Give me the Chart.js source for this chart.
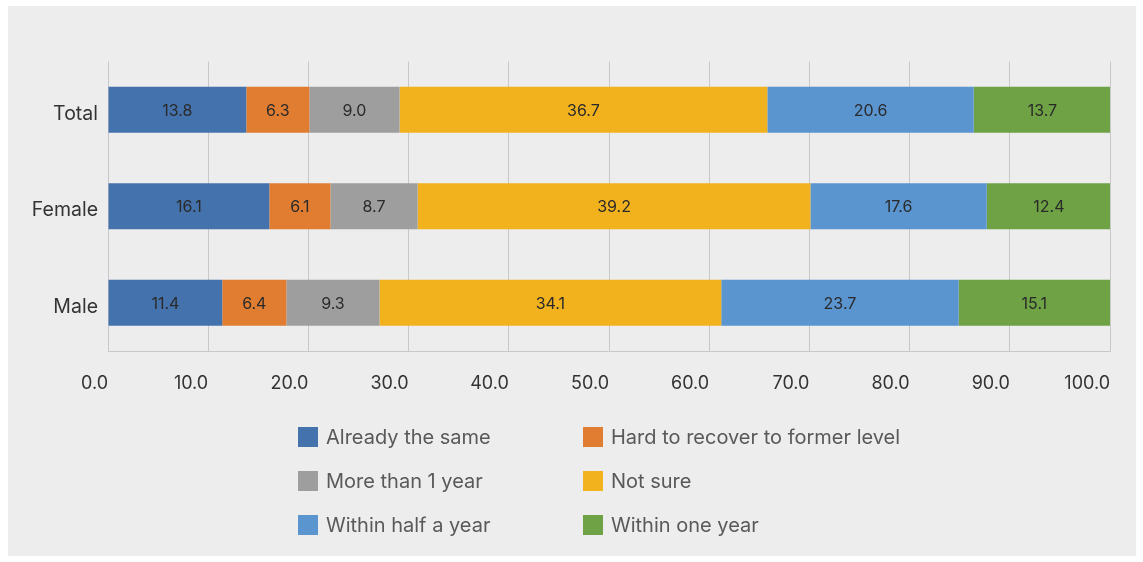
<!DOCTYPE html>
<html>
<head>
<meta charset="utf-8">
<script src="https://cdn.jsdelivr.net/npm/chart.js@4"></script>
<style>
  body { margin: 0; background: #fff; font-family: Inter, "Noto Sans", sans-serif; }
  #box { position: absolute; left: 8px; top: 6px; width: 1128px; height: 550px; background: #ededed; overflow: hidden; }
  #wrap { position: absolute; left: 0; top: 0; width: 1128px; height: 410px; }
  #legend { position: absolute; left: 290px; top: 409px; display: grid; grid-template-columns: 285px 360px; }
  .item { display: flex; align-items: center; height: 44px; font-size: 20px; color: #595959; white-space: nowrap; }
  .sw { width: 20px; height: 20px; margin-right: 8px; flex: none; }
</style>
</head>
<body>
<div id="box">
  <div id="wrap"><canvas id="chart"></canvas></div>
  <div id="legend"></div>
</div>
<script>
const groups = ['Total', 'Female', 'Male'];
const seriesNames = ['Already the same', 'Hard to recover to former level', 'More than 1 year', 'Not sure', 'Within half a year', 'Within one year'];
const alreadySame = [13.8, 16.1, 11.4];
const hardToRecover = [6.3, 6.1, 6.4];
const moreThanYear = [9.0, 8.7, 9.3];
const notSure = [36.7, 39.2, 34.1];
const withinHalfYear = [20.6, 17.6, 23.7];
const withinOneYear = [13.7, 12.4, 15.1];
const colors = ['#4472ad', '#e07d31', '#9e9e9e', '#f1b21e', '#5a95d0', '#6ea244'];

const allValues = [alreadySame, hardToRecover, moreThanYear, notSure, withinHalfYear, withinOneYear];

const barLabels = {
  id: 'barLabels',
  afterDatasetsDraw(chart) {
    const ctx = chart.ctx;
    ctx.save();
    ctx.font = '16px Inter, "Noto Sans", sans-serif';
    ctx.fillStyle = '#2a2a2a';
    ctx.textAlign = 'center';
    ctx.textBaseline = 'middle';
    chart.data.datasets.forEach((ds, i) => {
      chart.getDatasetMeta(i).data.forEach((bar, j) => {
        const x = (bar.x + bar.base) / 2;
        ctx.fillText(ds.data[j].toFixed(1), x, bar.y + 1);
      });
    });
    ctx.restore();
  }
};

new Chart(document.getElementById('chart'), {
  type: 'bar',
  data: {
    labels: groups,
    datasets: seriesNames.map((name, i) => ({
      label: name,
      data: allValues[i],
      backgroundColor: colors[i],
      borderWidth: 0,
      categoryPercentage: 1,
      barPercentage: 0.477
    }))
  },
  options: {
    indexAxis: 'y',
    responsive: true,
    maintainAspectRatio: false,
    animation: false,
    layout: { padding: { top: 55.5, right: 26, left: 0, bottom: 0 } },
    plugins: { legend: { display: false }, tooltip: { enabled: false } },
    scales: {
      x: {
        stacked: true,
        min: 0,
        max: 100,
        ticks: {
          stepSize: 10,
          padding: 22,
          align: 'end',
          color: '#333',
          font: { size: 18, family: 'Inter, "Noto Sans", sans-serif' },
          callback: v => v.toFixed(1)
        },
        grid: { color: '#c8c8c8', drawTicks: false },
        border: { display: true, color: '#c8c8c8' },
        afterFit: s => { s.height = 65; }
      },
      y: {
        stacked: true,
        ticks: {
          padding: 2,
          labelOffset: 4,
          color: '#333',
          font: { size: 19.5, family: 'Inter, "Noto Sans", sans-serif' }
        },
        grid: { display: false },
        border: { display: false },
        afterFit: s => { s.width = 100; }
      }
    }
  },
  plugins: [barLabels]
});

const legend = document.getElementById('legend');
seriesNames.forEach((name, i) => {
  const el = document.createElement('div');
  el.className = 'item';
  el.innerHTML = `<span class="sw" style="background:${colors[i]}"></span>${name}`;
  legend.appendChild(el);
});
</script>
</body>
</html>
